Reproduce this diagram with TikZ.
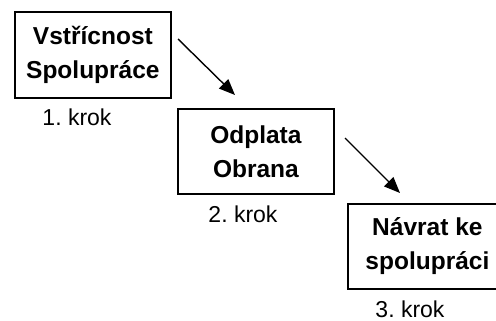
\documentclass[tikz,border=0pt]{standalone}
\usepackage{fontspec}
\setmainfont{Liberation Sans}
\usetikzlibrary{arrows.meta}
\frenchspacing
\begin{document}
\begin{tikzpicture}[x=1pt,y=-1pt,
  boxst/.style={draw,line width=1.8pt,inner sep=0pt,anchor=north west,align=center,
    font=\fontsize{24.5}{34}\selectfont\bfseries},
  lbl/.style={font=\fontsize{23}{26}\selectfont,inner sep=0pt},
  arr/.style={line width=1.4pt,-{Triangle[length=16pt,width=13pt]}}]
\useasboundingbox (0,0) rectangle (496,321);
\begin{scope}
\clip (0,0) rectangle (496,321);
\node[boxst,minimum width=156pt,minimum height=86pt] (b1) at (14,11) {Vstřícnost\\Spolupráce};
\node[boxst,minimum width=156pt,minimum height=85pt] (b2) at (177,108) {Odplata\\Obrana};
\node[boxst,minimum width=159pt,minimum height=85pt] (b3) at (347,203) {Návrat ke\\spolupráci};
\end{scope}
\node[lbl] (l1) at (77,117) {1. krok};
\node[lbl] (l2) at (243,214) {2. krok};
\node[lbl] (l3) at (410,309) {3. krok};
\coordinate (a1s) at (178,39);
\coordinate (a1e) at (235,95);
\coordinate (a2s) at (345,138);
\coordinate (a2e) at (400,193);
\draw[arr] (a1s) -- (a1e);
\draw[arr] (a2s) -- (a2e);
\end{tikzpicture}
\end{document}
